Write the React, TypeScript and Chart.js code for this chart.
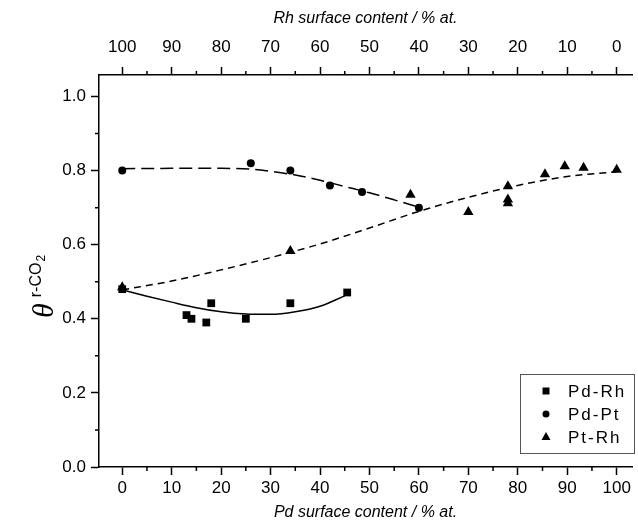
import React, { useEffect, useRef } from 'react';
import { Chart, registerables } from 'chart.js';

Chart.register(...registerables);

// ---------- data ----------
const pdRhX = [0, 13, 14, 17, 18, 25, 34, 45.5];
const pdRhY = [0.48, 0.41, 0.40, 0.39, 0.442, 0.40, 0.442, 0.471];

const pdPtX = [0, 26, 34, 42, 48.5, 60];
const pdPtY = [0.80, 0.82, 0.80, 0.76, 0.742, 0.70];

const ptRhX = [0, 34, 58.3, 70, 78, 78, 78, 85.5, 89.5, 93.3, 100];
const ptRhY = [0.485, 0.583, 0.735, 0.688, 0.758, 0.712, 0.722, 0.79, 0.812, 0.808, 0.802];

// fitted trend curves
const pdRhFitX = [0, 5, 10, 15, 20, 25, 30, 35, 40, 45];
const pdRhFitY = [0.478, 0.461, 0.445, 0.43, 0.419, 0.413, 0.412, 0.419, 0.434, 0.462];

const pdPtFitX = [0, 10, 20, 26, 30, 35, 40, 45, 50, 55, 60];
const pdPtFitY = [0.805, 0.806, 0.806, 0.804, 0.798, 0.788, 0.774, 0.757, 0.74, 0.721, 0.701];

const ptRhFitX = [0, 10, 20, 30, 40, 50, 60, 70, 80, 90, 100];
const ptRhFitY = [0.478, 0.502, 0.532, 0.565, 0.602, 0.645, 0.69, 0.728, 0.76, 0.784, 0.797];

// ticks
const xTicks = [0, 10, 20, 30, 40, 50, 60, 70, 80, 90, 100];
const xMinorTicks = [5, 15, 25, 35, 45, 55, 65, 75, 85, 95];
const topTickLabels = ['100', '90', '80', '70', '60', '50', '40', '30', '20', '10', '0'];
const yTicks = [0, 0.2, 0.4, 0.6, 0.8, 1.0];
const yMinorTicks = [0.1, 0.3, 0.5, 0.7, 0.9];

const seriesNames = ['Pd-Rh', 'Pd-Pt', 'Pt-Rh'];
const seriesStyles = ['rect', 'circle', 'triangle'];

const FONT = '"Liberation Sans", Arial, sans-serif';

const zip = (xs: number[], ys: number[]) => xs.map((x, i) => ({ x, y: ys[i] }));

function drawMarker(ctx: CanvasRenderingContext2D, style: string, cx: number, cy: number) {
  ctx.beginPath();
  if (style === 'rect') {
    ctx.rect(cx - 3.5, cy - 3.5, 7, 7);
  } else if (style === 'circle') {
    ctx.arc(cx, cy, 3.5, 0, Math.PI * 2);
  } else {
    ctx.moveTo(cx, cy - 5);
    ctx.lineTo(cx + 4.5, cy + 3);
    ctx.lineTo(cx - 4.5, cy + 3);
    ctx.closePath();
  }
  ctx.fill();
}

export default function App() {
  const ref = useRef<HTMLCanvasElement | null>(null);

  useEffect(() => {
    document.body.style.margin = '0';
    const canvas = ref.current!;

    const minorTicksPlugin = {
      id: 'minorTicks',
      afterDraw(chart: any) {
        const ctx = chart.ctx;
        const { x, x2, y } = chart.scales;
        const area = chart.chartArea;
        ctx.save();
        ctx.strokeStyle = '#000';
        ctx.lineWidth = 1.5;
        ctx.beginPath();
        xMinorTicks.forEach((v) => {
          const px = x.getPixelForValue(v);
          ctx.moveTo(px, area.bottom);
          ctx.lineTo(px, area.bottom + 4);
          const px2 = x2.getPixelForValue(v);
          ctx.moveTo(px2, area.top);
          ctx.lineTo(px2, area.top - 4);
        });
        yMinorTicks.forEach((v) => {
          const py = y.getPixelForValue(v);
          ctx.moveTo(area.left, py);
          ctx.lineTo(area.left - 4, py);
        });
        ctx.stroke();
        ctx.restore();
      },
    };

    const yTitlePlugin = {
      id: 'yTitle',
      afterDraw(chart: any) {
        const ctx = chart.ctx;
        ctx.save();
        ctx.rotate(-Math.PI / 2);
        ctx.fillStyle = '#000';
        ctx.textBaseline = 'alphabetic';
        ctx.textAlign = 'left';
        const start = -318;
        ctx.font = 'italic 30px "Liberation Serif", serif';
        ctx.fillText('\u03B8', start, 53);
        const w = ctx.measureText('\u03B8').width;
        ctx.font = '16px ' + FONT;
        ctx.fillText('r-CO', start + w + 6, 41);
        const w2 = ctx.measureText('r-CO').width;
        ctx.font = '12px ' + FONT;
        ctx.fillText('2', start + w + 6 + w2 + 1, 45);
        ctx.restore();
      },
    };

    const legendPlugin = {
      id: 'boxLegend',
      afterDraw(chart: any) {
        const ctx = chart.ctx;
        const x0 = 520, y0 = 374, w = 114, h = 79;
        ctx.save();
        ctx.fillStyle = '#fff';
        ctx.fillRect(x0, y0, w, h);
        ctx.strokeStyle = '#555';
        ctx.lineWidth = 1;
        ctx.strokeRect(x0 + 0.5, y0 + 0.5, w, h);
        const rowsY = [391, 414, 437];
        seriesNames.forEach((name, i) => {
          ctx.fillStyle = '#000';
          drawMarker(ctx, seriesStyles[i], 546, rowsY[i]);
          ctx.font = '17px ' + FONT;
          (ctx as any).letterSpacing = '2px';
          ctx.textBaseline = 'middle';
          ctx.textAlign = 'left';
          ctx.fillText(name, 568, rowsY[i] + 1);
          (ctx as any).letterSpacing = '0px';
        });
        ctx.restore();
      },
    };

    const lineDs = (xs: number[], ys: number[], dash: number[]) => ({
      type: 'line' as const,
      data: zip(xs, ys),
      borderColor: '#000',
      borderWidth: 1.5,
      borderDash: dash,
      pointRadius: 0,
      showLine: true,
      fill: false,
      cubicInterpolationMode: 'monotone' as const,
      xAxisID: 'x',
      yAxisID: 'y',
    });

    const ptDs = (xs: number[], ys: number[], style: string, r: number, label: string) => ({
      type: 'scatter' as const,
      label,
      data: zip(xs, ys),
      pointStyle: style,
      pointRadius: r,
      pointBackgroundColor: '#000',
      pointBorderColor: '#000',
      pointBorderWidth: 0,
      showLine: false,
      xAxisID: 'x',
      yAxisID: 'y',
    });

    const tickFont = { family: FONT, size: 17 };

    const chart = new Chart(canvas, {
      type: 'scatter',
      data: {
        datasets: [
          lineDs(pdRhFitX, pdRhFitY, []),
          lineDs(pdPtFitX, pdPtFitY, [13, 6]),
          lineDs(ptRhFitX, ptRhFitY, [7, 5]),
          ptDs(pdRhX, pdRhY, 'rect', 5.5, seriesNames[0]),
          ptDs(pdPtX, pdPtY, 'circle', 4, seriesNames[1]),
          ptDs(ptRhX, ptRhY, 'triangle', 6, seriesNames[2]),
        ] as any,
      },
      options: {
        animation: false,
        responsive: false,
        maintainAspectRatio: false,
        layout: { padding: 0 },
        plugins: {
          legend: { display: false },
          tooltip: { enabled: false },
        },
        scales: {
          x: {
            type: 'linear',
            position: 'bottom',
            min: -4.7,
            max: 103.1,
            afterBuildTicks: (s: any) => {
              s.ticks = xTicks.map((v) => ({ value: v }));
            },
            afterFit: (s: any) => {
              s.height = 59;
            },
            grid: { drawOnChartArea: false, drawTicks: true, tickLength: 8, tickColor: '#000', tickWidth: 1.5 },
            border: { display: true, color: '#000', width: 1.5 },
            ticks: {
              color: '#000',
              font: tickFont,
              padding: 3,
              maxRotation: 0,
              autoSkip: false,
              callback: (v: any) => String(v),
            },
            title: {
              display: true,
              text: 'Pd surface content / % at.',
              color: '#000',
              font: { family: FONT, size: 16, style: 'italic' },
              padding: { top: 0, bottom: 4 },
            },
          },
          x2: {
            type: 'linear',
            position: 'top',
            min: -4.7,
            max: 103.1,
            afterBuildTicks: (s: any) => {
              s.ticks = xTicks.map((v) => ({ value: v }));
            },
            afterFit: (s: any) => {
              s.height = 75;
            },
            grid: { drawOnChartArea: false, drawTicks: true, tickLength: 8, tickColor: '#000', tickWidth: 1.5 },
            border: { display: true, color: '#000', width: 1.5 },
            ticks: {
              color: '#000',
              font: tickFont,
              padding: 9,
              maxRotation: 0,
              autoSkip: false,
              callback: (_v: any, i: number) => topTickLabels[i],
            },
            title: {
              display: true,
              text: 'Rh surface content / % at.',
              color: '#000',
              font: { family: FONT, size: 16, style: 'italic' },
              padding: { top: 9, bottom: 0 },
            },
          },
          y: {
            type: 'linear',
            position: 'left',
            min: 0,
            max: 1.058,
            afterBuildTicks: (s: any) => {
              s.ticks = yTicks.map((v) => ({ value: v }));
            },
            afterFit: (s: any) => {
              s.width = 99;
            },
            grid: { drawOnChartArea: false, drawTicks: true, tickLength: 8, tickColor: '#000', tickWidth: 1.5 },
            border: { display: true, color: '#000', width: 1.5 },
            ticks: {
              color: '#000',
              font: tickFont,
              padding: 5,
              autoSkip: false,
              callback: (v: any) => Number(v).toFixed(1),
            },
          },
        },
      } as any,
      plugins: [minorTicksPlugin, yTitlePlugin, legendPlugin],
    });

    return () => chart.destroy();
  }, []);

  return (
    <div style={{ width: 638, height: 526 }}>
      <canvas ref={ref} width={638} height={526} style={{ display: 'block', width: 638, height: 526 }} />
    </div>
  );
}
